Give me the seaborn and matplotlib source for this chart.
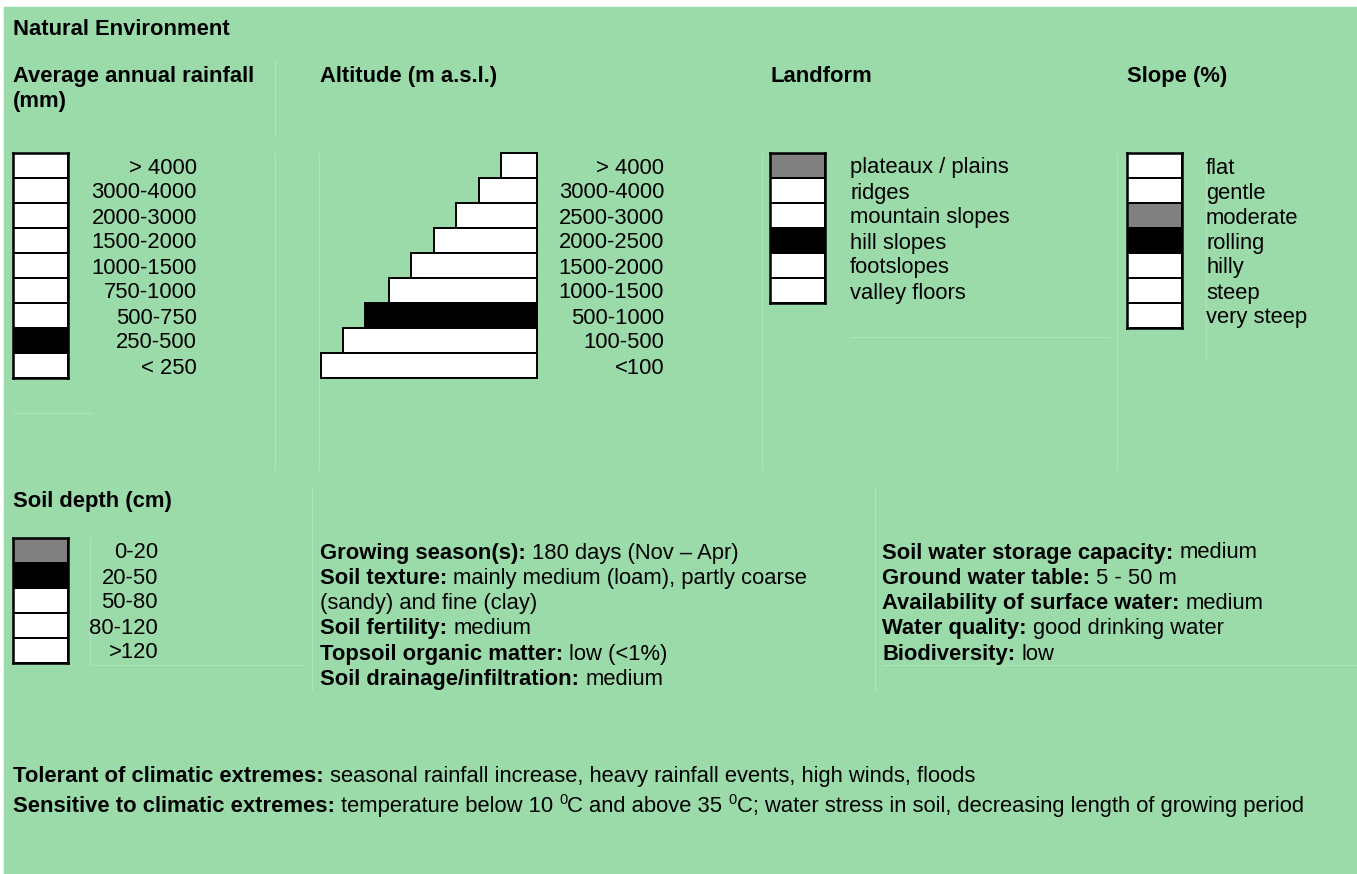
import numpy as np
import pandas as pd
import matplotlib
matplotlib.use("Agg")
import matplotlib.pyplot as plt
import seaborn as sns
from matplotlib.colors import ListedColormap
from matplotlib.patches import Rectangle
from matplotlib.transforms import blended_transform_factory, ScaledTranslation

# ---- data -------------------------------------------------------------
# level per class: 0 = not applicable, 1 = partly (grey), 2 = mainly (black)
rain_classes = ["> 4000", "3000-4000", "2000-3000", "1500-2000", "1000-1500",
                "750-1000", "500-750", "250-500", "< 250"]
rain_level = [0, 0, 0, 0, 0, 0, 0, 2, 0]

alt_classes = ["> 4000", "3000-4000", "2500-3000", "2000-2500", "1500-2000",
               "1000-1500", "500-1000", "100-500", "<100"]
alt_width = [36, 58, 81, 103, 126, 148, 172, 194, 216]
alt_level = [0, 0, 0, 0, 0, 0, 2, 0, 0]

landform_classes = ["plateaux / plains", "ridges", "mountain slopes",
                    "hill slopes", "footslopes", "valley floors"]
landform_level = [1, 0, 0, 2, 0, 0]

slope_classes = ["flat", "gentle", "moderate", "rolling", "hilly", "steep", "very steep"]
slope_level = [0, 0, 1, 2, 0, 0, 0]

soil_classes = ["0-20", "20-50", "50-80", "80-120", ">120"]
soil_level = [1, 2, 0, 0, 0]

soil_info = [
    [("Growing season(s):", "bold"), ("180 days (Nov \u2013 Apr)", "normal")],
    [("Soil texture:", "bold"), ("mainly medium (loam), partly coarse", "normal")],
    [("(sandy) and fine (clay)", "normal")],
    [("Soil fertility:", "bold"), ("medium", "normal")],
    [("Topsoil organic matter:", "bold"), ("low (<1%)", "normal")],
    [("Soil drainage/infiltration:", "bold"), ("medium", "normal")],
]
water_info = [
    [("Soil water storage capacity:", "bold"), ("medium", "normal")],
    [("Ground water table:", "bold"), ("5 - 50 m", "normal")],
    [("Availability of surface water:", "bold"), ("medium", "normal")],
    [("Water quality:", "bold"), ("good drinking water", "normal")],
    [("Biodiversity:", "bold"), ("low", "normal")],
]
tolerant = [("Tolerant of climatic extremes:", "bold"),
            ("seasonal rainfall increase, heavy rainfall events, high winds, floods", "normal")]
sensitive = [("Sensitive to climatic extremes:", "bold"),
             ("temperature below 10", "normal"), ("0", "sup"),
             ("C and above 35", "normal"), ("0", "sup"),
             ("C; water stress in soil, decreasing length of growing period", "normal")]

level_colors = ["white", "#808080", "black"]

# ---- style ------------------------------------------------------------
sns.set_style("white")
plt.rcParams["font.family"] = ["Liberation Sans", "DejaVu Sans"]
plt.rcParams["text.color"] = "black"
GREEN = "#9bdbaa"
FAINT = "#aee2ba"
FS = 15.8
SPACE = 4.4  # width of a space, points

W, H = 1357, 874
fig = plt.figure(figsize=(W / 100, H / 100), dpi=100)
bg = fig.add_axes([0, 0, 1, 1])
bg.set_xlim(0, W)
bg.set_ylim(H, 0)
bg.axis("off")
bg.add_patch(Rectangle((4, 7), W - 4, H - 7, color=GREEN, zorder=0))

# faint table borders of the original layout
faint_lines = [((275, 60), (275, 137)), ((275, 153), (275, 470)), ((13, 413), (92, 413)),
               ((319, 153), (319, 470)), ((762, 153), (762, 470)), ((850, 337), (1110, 337)),
               ((1117, 153), (1117, 470)), ((1206, 153), (1206, 360)),
               ((90, 538), (90, 665)), ((90, 665), (303, 665)), ((312, 487), (312, 690)),
               ((875, 487), (875, 690)), ((882, 665), (1357, 665))]
for (xa, ya), (xb, yb) in faint_lines:
    bg.plot([xa, xb], [ya, yb], color=FAINT, lw=0.8, zorder=1)


def px_axes(x0, y0, x1, y1):
    return fig.add_axes([x0 / W, 1 - y1 / H, (x1 - x0) / W, (y1 - y0) / H])


def row_trans(ax):
    # x in page pixels, y in the data rows of ax, shifted down to the baseline
    return blended_transform_factory(bg.transData, ax.transData) + \
        ScaledTranslation(0, -0.08, fig.dpi_scale_trans)


def box_column(x0, y0, levels, labels, label_x, ha):
    ax = px_axes(x0, y0, x0 + 55, y0 + 25 * len(levels))
    sns.heatmap(pd.DataFrame({"level": levels}), cmap=ListedColormap(level_colors),
                vmin=-0.5, vmax=2.5, cbar=False, linewidths=1.2, linecolor="black",
                xticklabels=False, yticklabels=False, ax=ax)
    for s in ax.spines.values():
        s.set_visible(True)
        s.set_linewidth(1.8)
        s.set_color("black")
    ax.set_xlabel("")
    ax.set_ylabel("")
    tr = row_trans(ax)
    for i, lab in enumerate(labels):
        bg.text(label_x, i + 0.5, lab, transform=tr, ha=ha, va="baseline", fontsize=FS)


def rich(x, y, parts):
    prev = None
    for k, (txt, kind) in enumerate(parts):
        weight = "bold" if kind == "bold" else "normal"
        size = FS * 0.66 if kind == "sup" else FS
        dy = 5.5 if kind == "sup" else 0
        if prev is None:
            prev = bg.text(x, y, txt, fontsize=size, fontweight=weight, va="baseline")
            continue
        dx = 0 if parts[k - 1][1] == "sup" else SPACE
        prev = bg.annotate(txt, xy=(1, y), xycoords=(prev, "data"), xytext=(dx, dy),
                           textcoords="offset points", fontsize=size, fontweight=weight,
                           va="baseline", ha="left")


# ---- headings ---------------------------------------------------------
bg.text(13, 35, "Natural Environment", fontsize=FS, fontweight="bold", va="baseline")
bg.text(13, 82, "Average annual rainfall", fontsize=FS, fontweight="bold", va="baseline")
bg.text(13, 107, "(mm)", fontsize=FS, fontweight="bold", va="baseline")
bg.text(320, 82, "Altitude (m a.s.l.)", fontsize=FS, fontweight="bold", va="baseline")
bg.text(770, 82, "Landform", fontsize=FS, fontweight="bold", va="baseline")
bg.text(1127, 82, "Slope (%)", fontsize=FS, fontweight="bold", va="baseline")
bg.text(13, 507, "Soil depth (cm)", fontsize=FS, fontweight="bold", va="baseline")

# ---- class boxes ------------------------------------------------------
box_column(13, 153, rain_level, rain_classes, 197, "right")
box_column(770, 153, landform_level, landform_classes, 850, "left")
box_column(1127, 153, slope_level, slope_classes, 1206, "left")
box_column(13, 538, soil_level, soil_classes, 158, "right")

# altitude staircase
ax_alt = px_axes(321, 153, 537, 378)
alt_palette = {c: level_colors[v] for c, v in zip(alt_classes, alt_level)}
sns.barplot(x=alt_width, y=alt_classes, hue=alt_classes, palette=alt_palette,
            orient="h", width=1, saturation=1, edgecolor="black", linewidth=1.4,
            legend=False, ax=ax_alt)
ax_alt.set_xlim(max(alt_width), 0)
ax_alt.set_ylim(len(alt_classes) - 0.5, -0.5)
ax_alt.axis("off")
for p in ax_alt.patches:
    p.set_clip_on(False)
tr = row_trans(ax_alt)
for i, lab in enumerate(alt_classes):
    bg.text(664, i, lab, transform=tr, ha="right", va="baseline", fontsize=FS)

# ---- text blocks ------------------------------------------------------
for i, line in enumerate(soil_info):
    rich(320, 558.5 + 25.3 * i, line)
for i, line in enumerate(water_info):
    rich(882, 558.5 + 25.3 * i, line)
rich(13, 782, tolerant)
rich(13, 812, sensitive)

fig.savefig("out.png", dpi=100, facecolor="white")
